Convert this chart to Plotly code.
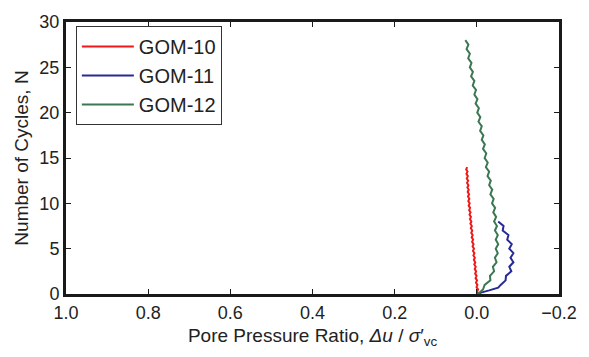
import plotly.graph_objects as go

# ---------------- data ----------------
gom10_N = [0, 0.25, 0.5, 0.75, 1, 1.25, 1.5, 1.75, 2, 2.25, 2.5, 2.75, 3, 3.25, 3.5, 3.75,
           4, 4.25, 4.5, 4.75, 5, 5.25, 5.5, 5.75, 6, 6.25, 6.5, 6.75, 7, 7.25, 7.5, 7.75,
           8, 8.25, 8.5, 8.75, 9, 9.25, 9.5, 9.75, 10, 10.25, 10.5, 10.75, 11, 11.25, 11.5,
           11.75, 12, 12.25, 12.5, 12.75, 13, 13.25, 13.5, 13.75, 14]
gom10_ratio = [-0.003, -0.00075, -0.003, 0.00075, -0.0015, 0.0020, -0.0005, 0.0031, 0.0006,
               0.0041, 0.0017, 0.0052, 0.0027, 0.0062, 0.0038, 0.0073, 0.0048, 0.0083, 0.0059,
               0.0094, 0.0069, 0.0104, 0.0080, 0.0115, 0.0090, 0.0125, 0.0101, 0.0136, 0.0111,
               0.0146, 0.0122, 0.0157, 0.0132, 0.0167, 0.0143, 0.0178, 0.0153, 0.0188, 0.0164,
               0.0199, 0.0174, 0.0208, 0.0182, 0.0215, 0.0189, 0.0223, 0.0197, 0.0230, 0.0204,
               0.0238, 0.0212, 0.0245, 0.0219, 0.0253, 0.0227, 0.0260, 0.0234]

gom11_N = [0, 0.15, 0.4, 0.7, 1.0, 1.5, 2.0, 2.5, 3.0, 3.5, 4.0, 4.5, 5.0, 5.5, 6.0, 6.5,
           7.0, 7.5, 8.0]
gom11_ratio = [-0.003, -0.010, -0.030, -0.052, -0.058, -0.070, -0.071, -0.084, -0.079,
               -0.089, -0.082, -0.089, -0.079, -0.085, -0.074, -0.077, -0.063, -0.065, -0.052]

gom12_N = [0, 0.5, 1, 1.5, 2, 2.5, 3, 3.5, 4, 4.5, 5, 5.5, 6, 6.5, 7, 7.5, 8, 8.5, 9, 9.5,
           10, 10.5, 11, 11.5, 12, 12.5, 13, 13.5, 14, 14.5, 15, 15.5, 16, 16.5, 17, 17.5,
           18, 18.5, 19, 19.5, 20, 20.5, 21, 21.5, 22, 22.5, 23, 23.5, 24, 24.5, 25, 25.5,
           26, 26.5, 27, 27.5, 28]
gom12_ratio = [-0.003, -0.015, -0.019, -0.033, -0.032, -0.042, -0.039, -0.048, -0.044,
               -0.051, -0.046, -0.052, -0.046, -0.051, -0.044, -0.049, -0.042, -0.047,
               -0.040, -0.0445, -0.037, -0.041, -0.033, -0.0375, -0.030, -0.034, -0.026,
               -0.030, -0.022, -0.0265, -0.019, -0.023, -0.015, -0.0195, -0.012, -0.016,
               -0.008, -0.012, -0.004, -0.0085, -0.001, -0.005, 0.003, -0.0015, 0.006, 0.002,
               0.010, 0.006, 0.014, 0.0095, 0.017, 0.013, 0.021, 0.017, 0.025, 0.0205, 0.028]

series_names = ["GOM-10", "GOM-11", "GOM-12"]
series_colors = ["#f01818", "#262a96", "#3c7753"]

x_tickvals = [1.0, 0.8, 0.6, 0.4, 0.2, 0.0, -0.2]
x_ticktext = ["1.0", "0.8", "0.6", "0.4", "0.2", "0.0", "\u22120.2"]
y_tickvals = [0, 5, 10, 15, 20, 25, 30]
y_ticktext = ["0", "5", "10", "15", "20", "25", "30"]

# ---------------- figure ----------------
FONT = "Liberation Sans, Arial, Helvetica, sans-serif"
TXT = "#222222"

fig = go.Figure()
for name, col, xs, ys in zip(series_names, series_colors,
                             [gom10_ratio, gom11_ratio, gom12_ratio],
                             [gom10_N, gom11_N, gom12_N]):
    fig.add_trace(go.Scatter(x=xs, y=ys, mode="lines", name=name,
                             line=dict(color=col, width=2)))

axis_common = dict(showgrid=False, zeroline=False, showline=True, mirror="allticks",
                   linecolor="#1a1a1a", linewidth=3, ticks="inside", ticklen=5,
                   tickwidth=1, tickcolor="#1a1a1a",
                   tickfont=dict(family=FONT, size=18, color=TXT))

fig.update_xaxes(range=[1.0, -0.2], tickvals=x_tickvals, ticktext=x_ticktext,
                 title=dict(text="Pore Pressure Ratio, <i>\u0394u</i> / <i>\u03c3</i>\u2032<sub>vc</sub>",
                            font=dict(family=FONT, size=19, color=TXT), standoff=8),
                 **axis_common)
fig.update_yaxes(range=[0, 30], tickvals=y_tickvals, ticktext=y_ticktext,
                 title=dict(text="Number of Cycles, N",
                            font=dict(family=FONT, size=19, color=TXT), standoff=6),
                 **axis_common)

fig.update_layout(
    width=589, height=357,
    margin=dict(l=66, r=25, t=21, b=63),
    plot_bgcolor="white", paper_bgcolor="white",
    font=dict(family=FONT, color=TXT),
    legend=dict(x=0.02, y=0.985, xanchor="left", yanchor="top",
                bgcolor="white", bordercolor="#333333", borderwidth=1,
                font=dict(family=FONT, size=20, color=TXT),
                itemwidth=52, tracegroupgap=0),
    showlegend=True,
)

fig.write_html("out.html")
